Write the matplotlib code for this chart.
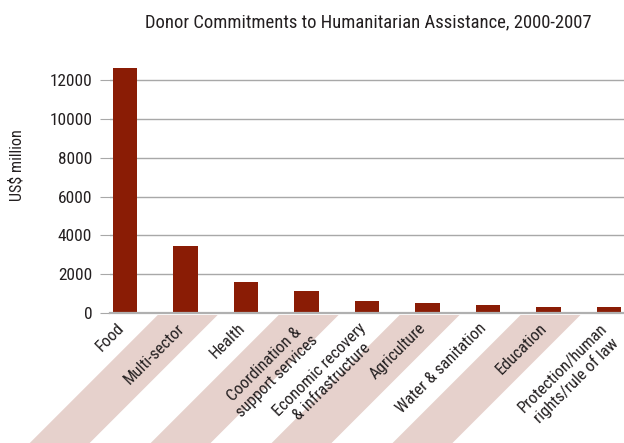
import matplotlib
matplotlib.use("Agg")
import matplotlib.pyplot as plt
from matplotlib.patches import Polygon
from matplotlib.transforms import ScaledTranslation

categories = ["Food", "Multi-sector", "Health", "Coordination &\nsupport services",
              "Economic recovery\n& infrastructure", "Agriculture", "Water & sanitation",
              "Education", "Protection/human\nrights/rule of law"]
values = [12600, 3450, 1600, 1150, 630, 520, 410, 320, 300]
yticks = [0, 2000, 4000, 6000, 8000, 10000, 12000]
title = "Donor Commitments to Humanitarian Assistance, 2000-2007"
ylabel = "US$ million"

plt.rcParams['font.family'] = ['Roboto Condensed', 'Roboto', 'DejaVu Sans']
TXT = '#231f20'
BAR = '#8a1c05'
STRIPE = '#e6d1cc'
GRID = '#a8a8a8'

W, H = 624, 443
fig = plt.figure(figsize=(W/100, H/100), dpi=100)
ax = fig.add_axes([110/W, 130/H, 514/W, 252.4/H])

x = list(range(len(categories)))
ax.bar(x, values, width=0.4, color=BAR, zorder=3)
ax.set_xlim(-0.25, len(categories) - 0.75)
ax.set_ylim(0, 13000)

ax.set_yticks(yticks)
ax.set_yticklabels([str(v) for v in yticks])
ax.yaxis.grid(True, color=GRID, lw=1.0)
ax.set_axisbelow(True)
ax.tick_params(axis='y', length=7.2, width=0.8, color=GRID, pad=5.5,
               labelsize=12.4, labelcolor=TXT)
for s in ['top', 'right', 'left']:
    ax.spines[s].set_visible(False)
ax.spines['bottom'].set_color('#b0b0b0')
ax.spines['bottom'].set_linewidth(1.6)
ax.spines['bottom'].set_zorder(4)

ax.set_xticks(x)
ax.set_xticklabels(categories, rotation=45, ha='right', va='top',
                   rotation_mode='anchor', fontsize=12, color=TXT,
                   multialignment='center')
ax.tick_params(axis='x', length=0, pad=4)
shift = ScaledTranslation(-9/100, -2/100, fig.dpi_scale_trans)
for lab in ax.get_xticklabels():
    lab.set_transform(lab.get_transform() + shift)

# diagonal stripes behind alternate labels
fig.canvas.draw()
inv = fig.transFigure.inverted()
for i in range(1, len(categories), 2):
    xl, y0 = ax.transData.transform((i - 0.46, 0))
    xr, _ = ax.transData.transform((i + 0.53, 0))
    top = y0 - 2
    drop = top + 20
    pts = [(xl, top), (xr, top), (xr - drop, top - drop), (xl - drop, top - drop)]
    pts = [inv.transform(p) for p in pts]
    poly = Polygon(pts, closed=True, transform=fig.transFigure, facecolor=STRIPE,
                   edgecolor='none', zorder=-1)
    fig.patches.append(poly)

fig.text(368/W, 1 - 22/H, title, ha='center', va='center', fontsize=13.4, color=TXT)
fig.text(17/W, 1 - 165/H, ylabel, ha='center', va='center', rotation=90,
         fontsize=11.6, color=TXT)

fig.savefig("out.png", dpi=100)
